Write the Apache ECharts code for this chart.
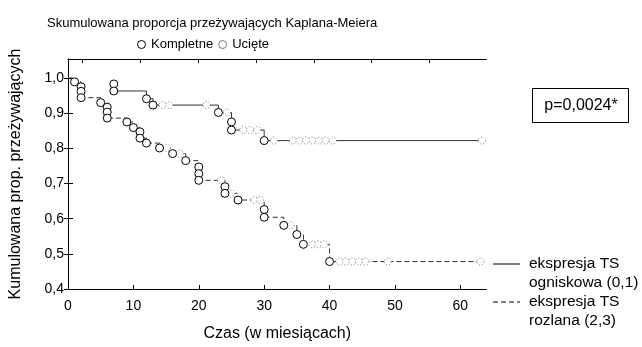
<!DOCTYPE html>
<html><head><meta charset="utf-8">
<script src="https://cdn.jsdelivr.net/npm/echarts@6/dist/echarts.min.js"></script>
<style>html,body{margin:0;padding:0;background:#fff}#c{width:642px;height:347px}</style>
</head><body><div id="c"></div>
<script>
// ---- data ----
const xTicks = [0, 10, 20, 30, 40, 50, 60];
const yTicks = [0.4, 0.5, 0.6, 0.7, 0.8, 0.9, 1.0];
const topTicks = [2.24, 11.08, 19.92, 28.76, 37.6, 46.44, 55.28];

// group 1: ekspresja TS ogniskowa (0,1)  (solid line)
const g1Events = [[7,0.983],[7,0.963],[12,0.941],[13,0.923],[23,0.902],[25,0.875],[25,0.852],[30,0.822]];
const g1Censored = [[14.5,0.923],[15.5,0.923],[21.2,0.923],[24.3,0.902],[26.8,0.852],[27.8,0.852],[28.9,0.852],
  [31.5,0.822],[34.4,0.822],[35.4,0.822],[36.4,0.822],[37.4,0.822],[38.4,0.822],[39.4,0.822],[40.5,0.822],[63.3,0.822]];

// group 2: ekspresja TS rozlana (2,3)  (dashed line)
const g2Start = [[0,1.0]];
const g2Events = [[1,0.989],[2,0.975],[2,0.962],[2,0.944],[5,0.930],[6,0.917],[6,0.903],[6,0.886],[9,0.875],
  [10,0.859],[11,0.847],[11,0.829],[12,0.815],[14,0.801],[16,0.785],[18,0.765],[20,0.747],[20,0.728],[20,0.709],
  [24,0.691],[24,0.672],[26,0.653],[30,0.626],[30,0.604],[33,0.581],[35,0.555],[36,0.527],[40,0.478]];
const g2Censored = [[15.1,0.801],[17.1,0.785],[23.4,0.709],[25,0.672],[28.5,0.653],[29.4,0.653],[34.1,0.581],
  [37.4,0.527],[38.3,0.527],[39.2,0.527],[41.5,0.478],[42.5,0.478],[43.5,0.478],[44.5,0.478],[45.5,0.478],
  [48.9,0.478],[63.1,0.478]];

const seriesNames = ['Kompletne', 'Ucięte'];
const groupNames = ['ekspresja TS', 'ogniskowa (0,1)', 'ekspresja TS', 'rozlana (2,3)'];

function curve(parts) {
  const all = [].concat(...parts);
  return all.map((p, i) => [p[0], p[1], i])
    .sort((a, b) => a[0] - b[0] || b[1] - a[1])
    .map(p => [p[0], p[1]]);
}

const FONT = 'Liberation Sans, Arial, sans-serif';
const chart = echarts.init(document.getElementById('c'), null, {renderer: 'canvas'});
const fmt = v => (Math.round(v * 10) / 10).toFixed(1).replace('.', ',');

chart.setOption({
  animation: false,
  backgroundColor: '#fff',
  textStyle: {fontFamily: FONT, color: '#000'},
  title: {
    text: 'Skumulowana proporcja przeżywających Kaplana-Meiera',
    left: 42, top: 12,
    textStyle: {fontSize: 13, fontWeight: 'normal', color: '#000', fontFamily: FONT}
  },
  legend: {
    data: seriesNames,
    left: 132, top: 33,
    itemWidth: 9, itemHeight: 8, itemGap: 5,
    itemStyle: {borderWidth: 1},
    textStyle: {fontSize: 13, color: '#000', fontFamily: FONT}
  },
  grid: {left: 66, right: 155.5, top: 59, bottom: 51},
  xAxis: [{
    type: 'value', min: 0, max: 64, interval: 10,
    name: 'Czas (w miesiącach)', nameLocation: 'middle', nameGap: 37,
    nameTextStyle: {fontSize: 16, color: '#000', fontFamily: FONT},
    axisLine: {show: true, lineStyle: {color: '#000', width: 1}},
    axisTick: {show: true, inside: true, length: 4, lineStyle: {color: '#000'}, customValues: xTicks},
    axisLabel: {fontSize: 14, color: '#000', margin: 10, customValues: xTicks},
    splitLine: {show: false}
  }, {
    type: 'value', min: 0, max: 64, position: 'top',
    axisLine: {show: true, lineStyle: {color: '#000', width: 1}},
    axisTick: {show: true, inside: true, length: 4, lineStyle: {color: '#000'}, customValues: topTicks},
    axisLabel: {show: false},
    splitLine: {show: false}
  }],
  yAxis: [{
    type: 'value', min: 0.4, max: 1.054,
    name: 'Kumulowana prop. przeżywających', nameLocation: 'middle', nameGap: 44,
    nameTextStyle: {fontSize: 16, color: '#000', fontFamily: FONT},
    axisLine: {show: true, lineStyle: {color: '#000', width: 1}},
    axisTick: {show: true, inside: true, length: 5, lineStyle: {color: '#000'}, customValues: yTicks},
    axisLabel: {fontSize: 14, color: '#000', margin: 4, customValues: yTicks, formatter: fmt},
    splitLine: {show: false}
  }, {
    type: 'value', min: 0.4, max: 1.054, position: 'right',
    axisLine: {show: true, lineStyle: {color: '#000', width: 1}},
    axisTick: {show: true, inside: true, length: 4, lineStyle: {color: '#000'}, customValues: yTicks},
    axisLabel: {show: false},
    splitLine: {show: false}
  }],
  series: [{
    name: groupNames[0] + ' ' + groupNames[1],
    type: 'line', step: 'end', showSymbol: false, symbol: 'none',
    data: curve([g1Events, g1Censored]),
    lineStyle: {color: '#333', width: 1, type: 'solid'},
    z: 2, silent: true
  }, {
    name: groupNames[2] + ' ' + groupNames[3],
    type: 'line', step: 'end', showSymbol: false, symbol: 'none',
    data: curve([g2Start, g2Events, g2Censored]),
    lineStyle: {color: '#333', width: 1, type: [5, 3]},
    z: 2, silent: true
  }, {
    name: seriesNames[1],
    type: 'scatter', symbol: 'circle', symbolSize: 7,
    data: g1Censored.concat(g2Censored),
    itemStyle: {color: '#fff', borderColor: '#777', borderWidth: 1, borderType: [1, 2], opacity: 1},
    z: 3
  }, {
    name: seriesNames[0],
    type: 'scatter', symbol: 'circle', symbolSize: 8,
    data: g1Events.concat(g2Events),
    itemStyle: {color: '#fff', borderColor: '#000', borderWidth: 1, opacity: 1},
    z: 4
  }],
  graphic: [
    {type: 'line', shape: {x1: 493, y1: 264, x2: 520, y2: 264}, style: {stroke: '#000', lineWidth: 1}},
    {type: 'text', left: 529, top: 256, style: {text: groupNames[0], font: '15.5px ' + FONT, fill: '#000'}},
    {type: 'text', left: 529, top: 275, style: {text: groupNames[1], font: '15.5px ' + FONT, fill: '#000'}},
    {type: 'line', shape: {x1: 493, y1: 302, x2: 520, y2: 302}, style: {stroke: '#000', lineWidth: 1, lineDash: [5, 3]}},
    {type: 'text', left: 529, top: 294, style: {text: groupNames[2], font: '15.5px ' + FONT, fill: '#000'}},
    {type: 'text', left: 529, top: 313, style: {text: groupNames[3], font: '15.5px ' + FONT, fill: '#000'}},
    {type: 'rect', shape: {x: 532.5, y: 88.5, width: 96, height: 34}, style: {fill: '#fff', stroke: '#000', lineWidth: 1}},
    {type: 'text', x: 581, y: 105.5, style: {text: 'p=0,0024*', font: '16px ' + FONT, fill: '#000', align: 'center', verticalAlign: 'middle'}}
  ]
});
</script>
</body></html>
